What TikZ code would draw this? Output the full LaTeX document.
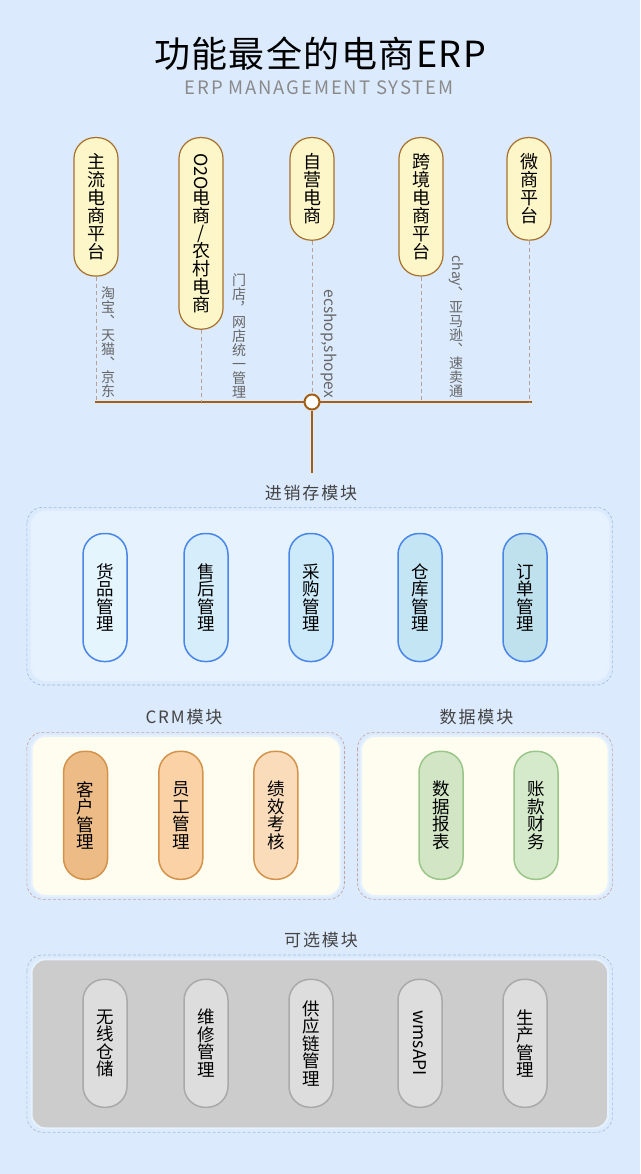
\documentclass[tikz,border=0pt]{standalone}
\usepackage{fontspec}
\setmainfont{Noto Sans CJK SC}
\newfontfamily\spaced[LetterSpace=11]{Noto Sans CJK SC}
\newfontfamily\subtfont[LetterSpace=10]{Noto Sans CJK SC}
\newfontfamily\titlefont[LetterSpace=4]{Noto Sans CJK SC}
\usetikzlibrary{positioning}

\definecolor{bg}{HTML}{DBEAFD}
\definecolor{brownline}{HTML}{A65F12}
\definecolor{platfill}{HTML}{FDF6C8}
\definecolor{platdraw}{HTML}{A8702A}
\definecolor{tickgray}{HTML}{B5A39B}
\definecolor{sidegray}{HTML}{666666}
\definecolor{modgray}{HTML}{444444}
\definecolor{subgray}{HTML}{8A8A8A}
\definecolor{panelrim}{HTML}{E6F1FE}
% frames and panels
\definecolor{jxcframe}{HTML}{9DB8DC}
\definecolor{jxcpanel}{HTML}{E6F2FD}
\definecolor{crmframe}{HTML}{C4A39C}
\definecolor{crmpanel}{HTML}{FFFDF0}
\definecolor{optframe}{HTML}{A8BCD4}
\definecolor{optpanel}{HTML}{CCCCCC}
% pills
\definecolor{blueedge}{HTML}{4A86E8}
\definecolor{orangeedge}{HTML}{D4934B}
\definecolor{greenedge}{HTML}{9AC689}
\definecolor{grayedge}{HTML}{A9A9A9}
\definecolor{blueA}{HTML}{E4F5FE}
\definecolor{blueB}{HTML}{D6EEFB}
\definecolor{blueC}{HTML}{CCEAF9}
\definecolor{blueD}{HTML}{C4E5F4}
\definecolor{blueE}{HTML}{BFE1EE}
\definecolor{orangeA}{HTML}{EDBB86}
\definecolor{orangeB}{HTML}{FAD2A6}
\definecolor{orangeC}{HTML}{FADCBB}
\definecolor{greenA}{HTML}{D2E6C6}
\definecolor{greenB}{HTML}{D5EACB}
\definecolor{grayA}{HTML}{DDDDDD}

\newcommand{\lat}[1]{\rotatebox[origin=c]{-90}{#1}}

\tikzset{
  plat/.style={draw=platdraw, fill=platfill, line width=1.2pt, rounded corners=21pt,
    minimum width=44pt, inner xsep=0pt, inner ysep=16pt, anchor=north, align=center,
    font=\fontsize{18}{18}\selectfont},
  side/.style={anchor=south, inner sep=0pt, align=center, text=sidegray,
    font=\fontsize{14}{14}\selectfont},
  pill/.style 2 args={draw=#1, fill=#2, line width=1.5pt, rounded corners=21pt, minimum width=44pt,
    minimum height=128pt, inner sep=0pt, align=center,
    font=\fontsize{17.5}{17.5}\selectfont},
  modtitle/.style={text=modgray, inner sep=0pt, font=\fontsize{17}{17}\spaced},
  frame/.style={draw=#1, dash pattern=on 3pt off 2pt, line width=0.6pt, rounded corners=16pt},
  panel/.style={fill=#1, draw=panelrim, line width=2pt, rounded corners=14pt},
}

\begin{document}
\begin{tikzpicture}[x=1pt, y=-1pt]
\useasboundingbox (0,0) rectangle (640,1174);
\fill[bg] (0,0) rectangle (640,1174);

% title
\node (title) at (320,54) {\fontsize{36}{36}\titlefont 功能最全的电商ERP};
\node[text=subgray] (subtitle) at (319,88) {\fontsize{18.5}{18.5}\subtfont ERP MANAGEMENT SYSTEM};

% platforms
\node[plat] (zl) at (96,137) {主\\流\\电\\商\\平\\台};
\node[plat] (oto) at (201,137) {\lat{O2O}\\[-2pt]电\\商\\[-1pt]/\\[-1pt]农\\村\\电\\商};
\node[plat] (zy) at (312,137) {自\\营\\电\\商};
\node[plat] (kj) at (421,137) {跨\\境\\电\\商\\平\\台};
\node[plat] (ws) at (529,137) {微\\商\\平\\台};

\node[side] (zlnote) at (108,398) {淘\\宝\\︑\\天\\猫\\︑\\京\\东};
\node[side] (otonote) at (239,398) {门\\店\\︐\\网\\店\\统\\一\\管\\理};
\node[side, font=\fontsize{15.5}{15.5}\selectfont] (zynote) at (329,398) {\lat{ecshop,shopex}};
\node[side] (kjnote) at (456,398) {\lat{chay}\\︑\\亚\\马\\逊\\︑\\速\\卖\\通};

% bus line
\coordinate (busl) at (95,402);
\coordinate (busr) at (532,402);
\coordinate (stem) at (312,473);
\draw[brownline, line width=2pt] (busl) -- (busr);
\foreach \p in {zl,oto,zy,kj,ws}
  \draw[tickgray, line width=0.8pt, dash pattern=on 4pt off 3pt] (\p.south) -- (\p.south |- busl);
\node[circle, draw=brownline, fill=white, line width=2pt, minimum size=15pt, inner sep=0pt] (hub) at (312,402) {};
\draw[brownline, line width=2pt] (hub.south) -- (stem);

% jxc module
\node[modtitle] (jxc) at (311,493) {进销存模块};
\draw[frame=jxcframe] (26.9,507.3) rectangle (612.4,685);
\draw[panel=jxcpanel] (31.5,511.7) rectangle (608.6,680);
\node[pill={blueedge}{blueA}] (hp) at (105,597.5) {货\\品\\管\\理};
\node[pill={blueedge}{blueB}] (sh) at (206,597.5) {售\\后\\管\\理};
\node[pill={blueedge}{blueC}] (cg) at (311,597.5) {采\\购\\管\\理};
\node[pill={blueedge}{blueD}] (ck) at (420,597.5) {仓\\库\\管\\理};
\node[pill={blueedge}{blueE}] (dd) at (525,597.5) {订\\单\\管\\理};

% crm + data modules
\node[modtitle] (crm) at (184,717) {CRM模块};
\node[modtitle] (sj) at (476.5,717) {数据模块};
\draw[frame=crmframe] (26.9,732.3) rectangle (344.5,899.3);
\draw[panel=crmpanel] (31.5,736) rectangle (340.7,896);
\draw[frame=crmframe] (357.5,732.3) rectangle (612.4,899.3);
\draw[panel=crmpanel] (361,736) rectangle (608.6,896);
\node[pill={orangeedge}{orangeA}] (kh) at (85.6,815.3) {客\\户\\管\\理};
\node[pill={orangeedge}{orangeB}] (yg) at (180.8,815.3) {员\\工\\管\\理};
\node[pill={orangeedge}{orangeC}] (jx) at (275.8,815.3) {绩\\效\\考\\核};
\node[pill={greenedge}{greenA}] (bb) at (441,815.3) {数\\据\\报\\表};
\node[pill={greenedge}{greenB}] (cw) at (536,815.3) {账\\款\\财\\务};

% optional module
\node[modtitle] (kx) at (321,940) {可选模块};
\draw[frame=optframe] (26.9,955) rectangle (612.4,1132.3);
\draw[panel=optpanel] (31.5,959.3) rectangle (608.2,1128.3);
\node[pill={grayedge}{grayA}] (wx) at (105,1043.3) {无\\线\\仓\\储};
\node[pill={grayedge}{grayA}] (wg) at (206,1043.3) {维\\修\\管\\理};
\node[pill={grayedge}{grayA}] (gy) at (311,1043.3) {供\\应\\链\\管\\理};
\node[pill={grayedge}{grayA}] (wms) at (420,1043.3) {\lat{wmsAPI}};
\node[pill={grayedge}{grayA}] (sc) at (525,1043.3) {生\\产\\管\\理};
\end{tikzpicture}
\end{document}
